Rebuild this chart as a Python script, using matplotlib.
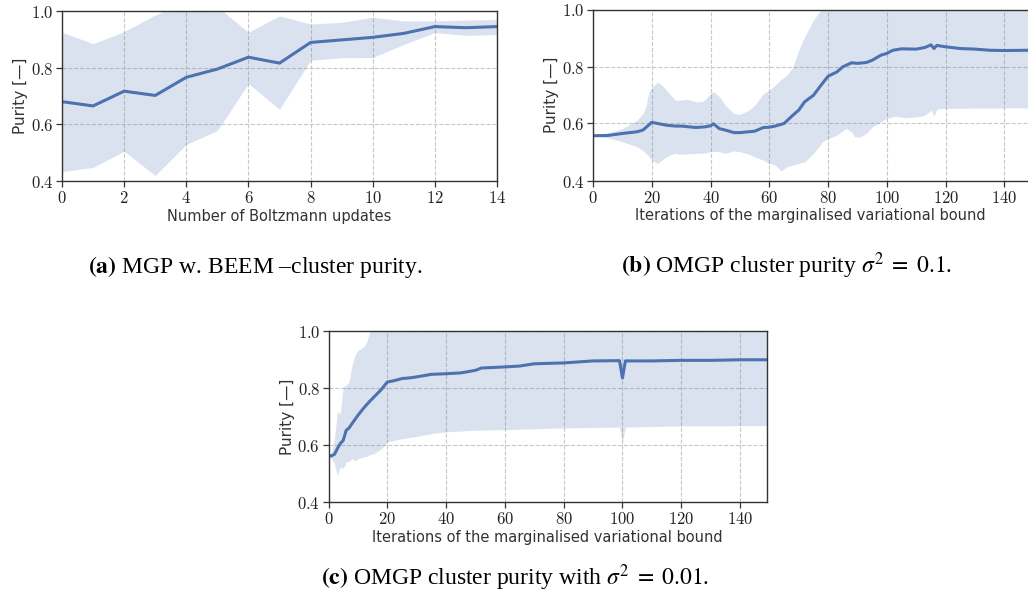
import matplotlib
matplotlib.use('Agg')
import matplotlib.pyplot as plt
from matplotlib.ticker import FuncFormatter, MultipleLocator

plt.rcParams['mathtext.fontset'] = 'cm'
plt.rcParams['font.family'] = ['DejaVu Sans']

# (a) MGP w. BEEM
a_x = [0, 1, 2, 3, 4, 5, 6, 7, 8, 9, 10, 11, 12, 13, 14]
a_mean = [0.680, 0.665, 0.717, 0.702, 0.766, 0.795, 0.837, 0.816, 0.889, 0.898, 0.907, 0.921, 0.945, 0.941, 0.945]
a_upper = [0.925, 0.885, 0.927, 0.986, 1.030, 1.015, 0.925, 0.983, 0.954, 0.960, 0.978, 0.965, 0.965, 0.968, 0.970]
a_lower = [0.433, 0.448, 0.505, 0.419, 0.529, 0.578, 0.744, 0.653, 0.826, 0.835, 0.836, 0.882, 0.924, 0.914, 0.917]

# (b) OMGP sigma^2 = 0.1
b_x = [0, 5, 10, 15, 17, 20, 22, 25, 28, 30, 35, 38, 40, 41, 43, 45, 48, 50, 55, 58, 60, 62, 65, 68, 70,
       72, 75, 78, 80, 83, 85, 88, 90, 93, 95, 98, 100, 102, 105, 110, 113, 115, 116, 117, 120, 125, 130,
       135, 140, 148]
b_mean = [0.557, 0.558, 0.565, 0.571, 0.577, 0.604, 0.600, 0.594, 0.591, 0.591, 0.586, 0.588, 0.592, 0.599,
          0.582, 0.577, 0.568, 0.568, 0.573, 0.586, 0.587, 0.591, 0.600, 0.629, 0.647, 0.676, 0.699, 0.740,
          0.766, 0.781, 0.799, 0.813, 0.811, 0.814, 0.822, 0.840, 0.846, 0.857, 0.862, 0.861, 0.867, 0.876,
          0.863, 0.874, 0.869, 0.863, 0.861, 0.857, 0.856, 0.857]
b_band_x = [0, 5, 10, 15, 17, 18, 19, 20, 22, 24, 26, 28, 30, 32, 35, 37, 38, 40, 41, 43, 45, 48, 50, 53,
            55, 58, 60, 62, 64, 66, 68, 70, 72, 75, 77, 78, 80, 83, 86, 88, 89, 91, 93, 95, 98, 100, 103,
            106, 110, 113, 115, 116, 117, 120, 130, 148]
b_upper = [0.559, 0.567, 0.582, 0.612, 0.635, 0.660, 0.711, 0.726, 0.746, 0.729, 0.705, 0.682, 0.682,
           0.685, 0.676, 0.676, 0.682, 0.705, 0.712, 0.694, 0.664, 0.635, 0.632, 0.647, 0.664, 0.705,
           0.717, 0.735, 0.755, 0.770, 0.799, 0.857, 0.904, 0.963, 0.992, 1.005, 1.05, 1.05, 1.05, 1.05,
           1.05, 1.05, 1.05, 1.05, 1.05, 1.05, 1.05, 1.05, 1.05, 1.05, 1.05, 1.05, 1.05, 1.05, 1.05, 1.05]
b_lower = [0.557, 0.550, 0.536, 0.518, 0.505, 0.495, 0.485, 0.471, 0.460, 0.477, 0.489, 0.495, 0.492,
           0.493, 0.495, 0.496, 0.497, 0.501, 0.502, 0.501, 0.495, 0.504, 0.501, 0.492, 0.483, 0.471,
           0.460, 0.454, 0.433, 0.448, 0.454, 0.460, 0.465, 0.495, 0.520, 0.536, 0.547, 0.559, 0.582,
           0.571, 0.553, 0.553, 0.565, 0.588, 0.606, 0.618, 0.626, 0.620, 0.623, 0.629, 0.647, 0.626,
           0.651, 0.653, 0.654, 0.655]

# (c) OMGP sigma^2 = 0.01
c_x = [0, 1, 2, 3, 4, 5, 6, 7, 8, 10, 12, 14, 16, 18, 20, 22, 25, 28, 30, 35, 40, 45, 50, 52, 60, 65, 70,
       80, 90, 99, 100, 101, 110, 120, 130, 140, 149]
c_mean = [0.562, 0.562, 0.567, 0.587, 0.605, 0.616, 0.651, 0.660, 0.675, 0.704, 0.730, 0.753, 0.774, 0.795,
          0.821, 0.825, 0.833, 0.836, 0.839, 0.848, 0.850, 0.853, 0.862, 0.870, 0.874, 0.877, 0.885, 0.888,
          0.895, 0.896, 0.835, 0.895, 0.895, 0.897, 0.897, 0.899, 0.899]
c_band_x = [0, 1, 2, 3, 4, 5, 6, 7, 8, 9, 10, 12, 13, 14, 15, 16, 18, 20, 25, 30, 35, 40, 50, 60, 80, 99,
            100, 101, 120, 149]
c_upper = [0.560, 0.575, 0.622, 0.716, 0.710, 0.804, 0.810, 0.821, 0.880, 0.915, 0.932, 0.944, 0.961,
           0.996, 1.05, 1.05, 1.05, 1.05, 1.05, 1.05, 1.05, 1.05, 1.05, 1.05, 1.05, 1.05, 1.05, 1.05,
           1.05, 1.05]
c_lower = [0.558, 0.552, 0.535, 0.494, 0.523, 0.517, 0.540, 0.543, 0.552, 0.544, 0.552, 0.558, 0.560,
           0.566, 0.568, 0.573, 0.587, 0.611, 0.622, 0.630, 0.640, 0.646, 0.652, 0.654, 0.660, 0.663,
           0.611, 0.663, 0.667, 0.668]

BLUE = '#4c72b0'
W, H = 1028, 601


def px_axes(fig, left, top, right, bottom):
    # 按像素位置建坐标轴
    return fig.add_axes([left / W, 1 - bottom / H, (right - left) / W, (bottom - top) / H])


def style_panel(ax, xlabel, xmax, xstep):
    ax.set_xlim(0, xmax)
    ax.set_ylim(0.4, 1.0)
    ax.xaxis.set_major_locator(MultipleLocator(xstep))
    ax.yaxis.set_major_locator(MultipleLocator(0.2))
    ax.xaxis.set_major_formatter(FuncFormatter(lambda v, p: f'${int(round(v))}$'))
    ax.yaxis.set_major_formatter(FuncFormatter(lambda v, p: f'${v:.1f}$'))
    ax.tick_params(labelsize=12, length=4, width=0.9, color='#333333', labelcolor='#222222', pad=2)
    ax.grid(True, linestyle='--', color='#c8c8c8', linewidth=0.8)
    ax.set_axisbelow(True)
    for s in ax.spines.values():
        s.set_color('#333333')
        s.set_linewidth(1.0)
    ax.set_xlabel(xlabel, fontsize=10.5, color='#333333', labelpad=1)
    ax.set_ylabel('Purity [—]', fontsize=11, color='#333333', labelpad=2)


fig = plt.figure(figsize=(W / 100, H / 100), dpi=100)

# 子图 (a)
ax_a = px_axes(fig, 62, 11, 497, 181)
ax_a.fill_between(a_x, a_lower, a_upper, color=BLUE, alpha=0.2, linewidth=0)
ax_a.plot(a_x, a_mean, color=BLUE, linewidth=2.2)
style_panel(ax_a, 'Number of Boltzmann updates', 14, 2)

# 子图 (b)
ax_b = px_axes(fig, 593, 9.5, 1028, 180.5)
ax_b.fill_between(b_band_x, b_lower, b_upper, color=BLUE, alpha=0.2, linewidth=0)
ax_b.plot(b_x, b_mean, color=BLUE, linewidth=2.2)
style_panel(ax_b, 'Iterations of the marginalised variational bound', 148, 20)
ax_b.spines['right'].set_visible(False)

# 子图 (c)
ax_c = px_axes(fig, 328.5, 331, 766.5, 502)
ax_c.fill_between(c_band_x, c_lower, c_upper, color=BLUE, alpha=0.2, linewidth=0)
ax_c.plot(c_x, c_mean, color=BLUE, linewidth=2.2)
style_panel(ax_c, 'Iterations of the marginalised variational bound', 149, 20)

# 图注
cap = dict(family='Liberation Serif', math_fontfamily='stix', fontsize=17, color='black',
           ha='center', va='baseline')
fig.text(255 / W, 1 - 273 / H, r'$\mathbf{(a)}$ MGP w. BEEM –cluster purity.', **cap)
fig.text(787 / W, 1 - 273 / H, r'$\mathbf{(b)}$ OMGP cluster purity $\sigma^2 \;=\; 0.1$.', **cap)
fig.text(515 / W, 1 - 585 / H, r'$\mathbf{(c)}$ OMGP cluster purity with $\sigma^2 \;=\; 0.01$.', **cap)

fig.savefig('out.png', dpi=100)
